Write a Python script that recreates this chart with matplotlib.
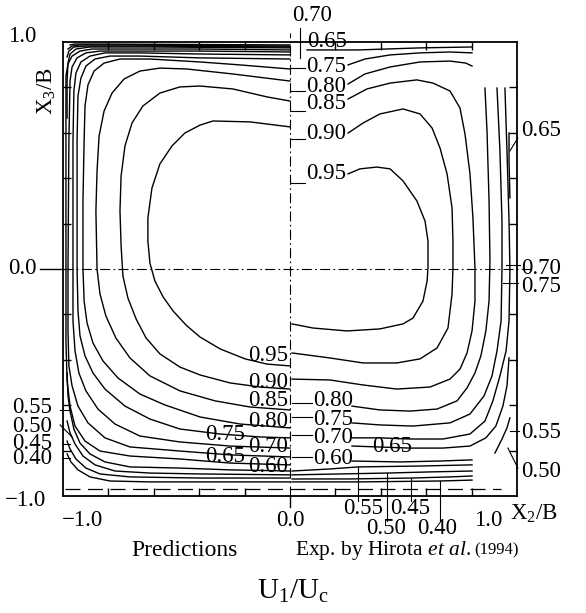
import numpy as np
import matplotlib.pyplot as plt

plt.rcParams['font.family'] = ['Liberation Serif', 'DejaVu Serif']
plt.rcParams['mathtext.fontset'] = 'custom'
plt.rcParams['mathtext.rm'] = 'Liberation Serif'
plt.rcParams['mathtext.it'] = 'Liberation Serif:italic'

# Contours, (X2/B, X3/B)
# Predictions (left half)
pred_95 = [(0, 0.626), (-0.176, 0.648), (-0.339, 0.652), (-0.396, 0.634), (-0.463, 0.599), (-0.520, 0.542),
           (-0.573, 0.463), (-0.608, 0.357), (-0.626, 0.225), (-0.626, 0.123), (-0.617, 0.026), (-0.595, -0.053),
           (-0.559, -0.123), (-0.515, -0.185), (-0.458, -0.247), (-0.396, -0.300), (-0.308, -0.352),
           (-0.198, -0.396), (-0.101, -0.419), (0, -0.427)]
pred_90 = [(0, 0.740), (-0.101, 0.758), (-0.251, 0.793), (-0.396, 0.806), (-0.485, 0.802), (-0.573, 0.775),
           (-0.648, 0.718), (-0.696, 0.643), (-0.727, 0.542), (-0.744, 0.410), (-0.749, 0.256), (-0.744, 0.101),
           (-0.736, -0.031), (-0.714, -0.128), (-0.678, -0.220), (-0.634, -0.304), (-0.573, -0.374),
           (-0.485, -0.432), (-0.396, -0.467), (-0.264, -0.502), (-0.132, -0.520), (0, -0.529)]
pred_85 = [(0, 0.828), (-0.251, 0.859), (-0.454, 0.881), (-0.573, 0.885), (-0.661, 0.872), (-0.731, 0.837),
           (-0.784, 0.775), (-0.819, 0.696), (-0.841, 0.586), (-0.850, 0.432), (-0.855, 0.256), (-0.850, 0),
           (-0.837, -0.110), (-0.811, -0.207), (-0.767, -0.304), (-0.705, -0.392), (-0.617, -0.471),
           (-0.485, -0.537), (-0.330, -0.581), (-0.176, -0.608), (0, -0.621)]
pred_80 = [(0, 0.881), (-0.220, 0.899), (-0.396, 0.912), (-0.617, 0.925), (-0.749, 0.925), (-0.819, 0.907),
           (-0.863, 0.872), (-0.890, 0.811), (-0.903, 0.718), (-0.907, 0.564), (-0.912, 0.300), (-0.912, 0),
           (-0.907, -0.141), (-0.894, -0.238), (-0.868, -0.326), (-0.824, -0.405), (-0.758, -0.480),
           (-0.661, -0.551), (-0.551, -0.599), (-0.396, -0.652), (-0.220, -0.683), (0, -0.700)]
pred_75 = [(0, 0.925), (-0.396, 0.930), (-0.661, 0.938), (-0.793, 0.938), (-0.859, 0.925), (-0.899, 0.894),
           (-0.921, 0.841), (-0.934, 0.762), (-0.938, 0.564), (-0.938, 0), (-0.934, -0.185), (-0.925, -0.295),
           (-0.903, -0.383), (-0.868, -0.458), (-0.815, -0.529), (-0.727, -0.604), (-0.617, -0.661),
           (-0.485, -0.705), (-0.308, -0.727), (-0.132, -0.740), (0, -0.744)]
pred_70 = [(0, 0.943), (-0.396, 0.947), (-0.661, 0.952), (-0.815, 0.952), (-0.881, 0.938), (-0.921, 0.912),
           (-0.943, 0.863), (-0.952, 0.784), (-0.956, 0.564), (-0.956, 0), (-0.956, -0.229), (-0.947, -0.361),
           (-0.930, -0.458), (-0.899, -0.537), (-0.846, -0.617), (-0.771, -0.683), (-0.661, -0.736),
           (-0.485, -0.762), (-0.264, -0.780), (0, -0.789)]
pred_65 = [(0, 0.956), (-0.396, 0.960), (-0.705, 0.960), (-0.837, 0.960), (-0.899, 0.952), (-0.938, 0.930),
           (-0.960, 0.890), (-0.969, 0.828), (-0.974, 0.564), (-0.978, 0), (-0.978, -0.273), (-0.974, -0.427),
           (-0.960, -0.515), (-0.934, -0.604), (-0.890, -0.678), (-0.815, -0.744), (-0.705, -0.784),
           (-0.485, -0.802), (-0.264, -0.819), (0, -0.828)]
pred_60 = [(0, 0.965), (-0.396, 0.969), (-0.749, 0.969), (-0.872, 0.969), (-0.925, 0.960), (-0.960, 0.938),
           (-0.978, 0.903), (-0.987, 0.850), (-0.987, 0.564), (-0.987, 0), (-0.987, -0.317), (-0.982, -0.493),
           (-0.969, -0.604), (-0.947, -0.692), (-0.903, -0.758), (-0.837, -0.802), (-0.705, -0.824),
           (-0.485, -0.837), (-0.264, -0.855), (0, -0.863)]
pred_55_top = [(0, 0.974), (-0.617, 0.978), (-0.881, 0.978), (-0.943, 0.969), (-0.969, 0.947), (-0.978, 0.907),
               (-0.982, 0.828), (-0.982, 0.665)]
pred_55_bot = [(-0.982, -0.458), (-0.978, -0.559), (-0.969, -0.626), (-0.952, -0.705), (-0.925, -0.767),
               (-0.881, -0.815), (-0.815, -0.850), (-0.705, -0.872), (-0.485, -0.877), (-0.264, -0.885), (0, -0.890)]
pred_50_top = [(0, 0.978), (-0.617, 0.982), (-0.903, 0.982), (-0.952, 0.978), (-0.974, 0.960), (-0.982, 0.934)]
pred_50_bot = [(-0.982, -0.670), (-0.969, -0.722), (-0.947, -0.771), (-0.912, -0.824), (-0.859, -0.863),
               (-0.771, -0.890), (-0.617, -0.899), (-0.396, -0.903), (0, -0.907)]
pred_45_top = [(0, 0.982), (-0.749, 0.987), (-0.925, 0.987), (-0.960, 0.982), (-0.978, 0.969)]
pred_45_bot = [(-0.982, -0.758), (-0.969, -0.793), (-0.943, -0.837), (-0.899, -0.877), (-0.837, -0.903),
               (-0.705, -0.916), (-0.396, -0.921), (0, -0.921)]
pred_40_top = [(0, 0.987), (-0.837, 0.991), (-0.947, 0.991), (-0.969, 0.987)]
pred_40_bot = [(-0.982, -0.815), (-0.965, -0.850), (-0.934, -0.885), (-0.881, -0.916), (-0.793, -0.934),
               (-0.617, -0.938), (-0.308, -0.938), (0, -0.938)]

# Experiment, Hirota et al. (right half)
exp_95 = [(0.256, 0.419), (0.308, 0.441), (0.383, 0.449), (0.441, 0.441), (0.498, 0.388), (0.559, 0.300),
          (0.595, 0.211), (0.608, 0.123), (0.608, 0.004), (0.604, -0.053), (0.586, -0.141), (0.542, -0.216),
          (0.498, -0.242), (0.396, -0.264), (0.251, -0.273), (0.101, -0.260), (0.009, -0.242)]
exp_90 = [(0.256, 0.599), (0.322, 0.643), (0.396, 0.683), (0.498, 0.705), (0.573, 0.683), (0.626, 0.621),
          (0.661, 0.533), (0.692, 0.419), (0.714, 0.269), (0.718, 0.123), (0.718, 0.004), (0.714, -0.110),
          (0.696, -0.260), (0.648, -0.348), (0.573, -0.396), (0.471, -0.414), (0.322, -0.414), (0.176, -0.392),
          (0.009, -0.370)]
exp_85 = [(0.256, 0.749), (0.339, 0.793), (0.441, 0.819), (0.559, 0.833), (0.630, 0.819), (0.705, 0.784),
          (0.749, 0.709), (0.771, 0.595), (0.793, 0.419), (0.806, 0.225), (0.815, 0.004), (0.815, -0.141),
          (0.802, -0.273), (0.780, -0.370), (0.749, -0.441), (0.705, -0.485), (0.617, -0.520), (0.471, -0.529),
          (0.322, -0.511), (0.176, -0.489), (0.009, -0.485)]
exp_80_top = [(0.256, 0.815), (0.330, 0.859), (0.441, 0.890), (0.573, 0.912), (0.705, 0.916), (0.775, 0.907),
              (0.802, 0.894)]
exp_80 = [(0.859, 0.797), (0.868, 0.608), (0.877, 0.300), (0.881, 0.035), (0.877, -0.141), (0.863, -0.273),
          (0.841, -0.383), (0.815, -0.458), (0.780, -0.524), (0.736, -0.581), (0.648, -0.617), (0.529, -0.626),
          (0.396, -0.621), (0.273, -0.604)]
exp_75_top = [(0.256, 0.899), (0.330, 0.925), (0.441, 0.943), (0.573, 0.952), (0.705, 0.956), (0.802, 0.952)]
exp_75 = [(0.912, 0.797), (0.925, 0.520), (0.934, 0.211), (0.934, 0), (0.930, -0.229), (0.912, -0.361),
          (0.890, -0.471), (0.855, -0.559), (0.793, -0.639), (0.705, -0.678), (0.542, -0.692), (0.396, -0.687),
          (0.273, -0.678)]
exp_70 = [(0.947, 0.797), (0.956, 0.520), (0.965, 0.211), (0.969, 0), (0.965, -0.229), (0.952, -0.361),
          (0.925, -0.471), (0.894, -0.581), (0.859, -0.670), (0.793, -0.727), (0.674, -0.749), (0.529, -0.749),
          (0.396, -0.744), (0.273, -0.744)]
exp_65_side = [(0.965, 0.599), (0.965, 0.476), (0.969, 0.313)]
exp_65 = [(0.273, -0.780), (0.529, -0.789), (0.674, -0.789), (0.793, -0.780), (0.863, -0.744), (0.907, -0.692),
          (0.938, -0.604), (0.956, -0.515), (0.965, -0.392)]
exp_65_top = [(0.075, 0.965), (0.300, 0.965), (0.573, 0.974), (0.802, 0.978)]
exp_60 = [(0.273, -0.846), (0.485, -0.850), (0.661, -0.846), (0.802, -0.841)]
exp_55 = [(0.009, -0.890), (0.176, -0.881), (0.300, -0.872), (0.573, -0.868), (0.802, -0.863)]
exp_55_side = [(0.903, -0.811), (0.934, -0.749), (0.956, -0.700), (0.969, -0.656)]
exp_50 = [(0.009, -0.907), (0.220, -0.903), (0.427, -0.899), (0.617, -0.894), (0.802, -0.890)]
exp_45 = [(0.009, -0.925), (0.264, -0.925), (0.533, -0.921), (0.705, -0.916), (0.802, -0.912)]
exp_40 = [(0.009, -0.938), (0.308, -0.938), (0.661, -0.934), (0.802, -0.930)]

# contour labels: (text, x, y)
pred_labels = [('0.95', -0.009, -0.383), ('0.90', -0.009, -0.502), ('0.85', -0.009, -0.581),
               ('0.80', -0.009, -0.670), ('0.75', -0.198, -0.727), ('0.70', -0.009, -0.780),
               ('0.65', -0.198, -0.824), ('0.60', -0.009, -0.868),
               ('0.55', -1.048, -0.612), ('0.50', -1.048, -0.692), ('0.45', -1.048, -0.767),
               ('0.40', -1.048, -0.837)]
exp_labels = [('0.70', 0.009, 1.115), ('0.65', 0.075, 1.004), ('0.75', 0.070, 0.894), ('0.80', 0.070, 0.806),
              ('0.85', 0.070, 0.727), ('0.90', 0.070, 0.595), ('0.95', 0.070, 0.419),
              ('0.80', 0.101, -0.581), ('0.75', 0.101, -0.661), ('0.70', 0.101, -0.744),
              ('0.60', 0.101, -0.837), ('0.65', 0.361, -0.780),
              ('0.65', 1.018, 0.608), ('0.70', 1.018, 0.004), ('0.75', 1.018, -0.075),
              ('0.55', 1.018, -0.722), ('0.50', 1.018, -0.890)]
bottom_labels = [('0.55', 0.322, -1.057), ('0.45', 0.529, -1.057), ('0.50', 0.423, -1.145), ('0.40', 0.648, -1.145)]

# leader lines from labels to contours
leaders = [[(0, 0.885), (0.066, 0.885)], [(0, 0.784), (0.066, 0.784)], [(0, 0.696), (0.066, 0.696)],
           [(0, 0.573), (0.066, 0.573)], [(0, 0.379), (0.066, 0.379)], [(0.044, 1.062), (0.044, 0.930)],
           [(0.009, -0.590), (0.097, -0.590)], [(0.009, -0.652), (0.097, -0.652)],
           [(0.009, -0.731), (0.097, -0.731)], [(0.009, -0.828), (0.097, -0.828)],
           [(0.969, 0.520), (1.004, 0.577)], [(0.952, 0.018), (1.013, 0.018)], [(0.938, -0.062), (1.004, -0.062)],
           [(0.969, -0.714), (1.009, -0.714)], [(0.960, -0.789), (1.004, -0.877)],
           [(0.300, -0.872), (0.300, -1.022)], [(0.427, -0.899), (0.427, -1.110)],
           [(0.533, -0.921), (0.533, -1.022)], [(0.661, -0.934), (0.661, -1.110)],
           [(-1.013, -0.621), (-0.969, -0.621)], [(-1.013, -0.687), (-0.960, -0.740)],
           [(-1.004, -0.771), (-0.969, -0.771)], [(-1.004, -0.833), (-0.969, -0.833)]]

ticks = [-0.8, -0.6, -0.4, -0.2, 0.2, 0.4, 0.6, 0.8]

fig = plt.figure(figsize=(5.86, 6.13), dpi=100)
ax = fig.add_axes([0.1075, 0.1909, 0.7747, 0.7406])
ax.set_xlim(-1, 1)
ax.set_ylim(-1, 1)

lines = [pred_95, pred_90, pred_85, pred_80, pred_75, pred_70, pred_65, pred_60,
         pred_55_top, pred_55_bot, pred_50_top, pred_50_bot, pred_45_top, pred_45_bot, pred_40_top, pred_40_bot,
         exp_95, exp_90, exp_85, exp_80_top, exp_80, exp_75_top, exp_75, exp_70, exp_65_side, exp_65,
         exp_65_top, exp_60, exp_55, exp_55_side, exp_50, exp_45, exp_40]
for seg in lines:
    a = np.array(seg)
    ax.plot(a[:, 0], a[:, 1], color='k', lw=1.0)

for seg in leaders:
    a = np.array(seg)
    ax.plot(a[:, 0], a[:, 1], color='k', lw=0.8, clip_on=False)

# center lines and wall line
ax.plot([-1.1, -1.0], [0, 0], color='k', lw=1.0, clip_on=False)
ax.plot([-1.0, 1.06], [0, 0], color='k', lw=0.8, dashes=[9, 3, 1.5, 3], clip_on=False)
ax.plot([0, 0], [-1.0, 1.04], color='k', lw=0.8, dashes=[9, 3, 1.5, 3], clip_on=False)
ax.plot([0, 0], [-1.05, -1.0], color='k', lw=1.0, clip_on=False)
ax.plot([-0.99, 0.93], [-0.969, -0.969], color='k', lw=0.9, dashes=[12, 6])

fs = 16.5
for s, x, y in pred_labels:
    ax.text(x, y, s, ha='right', va='center', fontsize=fs, clip_on=False)
for s, x, y in exp_labels:
    ax.text(x, y, s, ha='left', va='center', fontsize=fs, clip_on=False)
for s, x, y in bottom_labels:
    ax.text(x, y, s, ha='center', va='center', fontsize=fs, clip_on=False)

ax.set_xticks(ticks)
ax.set_yticks(ticks)
ax.tick_params(direction='in', length=6, width=1, top=True, right=True,
               labelbottom=False, labelleft=False)
for sp in ax.spines.values():
    sp.set_linewidth(1.3)

# axis labels
ax.text(-1.181, 1.026, '1.0', ha='center', va='center', fontsize=fs, clip_on=False)
ax.text(-1.181, 0, '0.0', ha='center', va='center', fontsize=fs, clip_on=False)
ax.text(-1.167, -1.022, '\u22121.0', ha='center', va='center', fontsize=fs, clip_on=False)
ax.text(-1.07, 0.784, 'X$_3$/B', ha='center', va='center', rotation=90, fontsize=fs, clip_on=False)
ax.text(-0.916, -1.106, '\u22121.0', ha='center', va='center', fontsize=fs, clip_on=False)
ax.text(0, -1.106, '0.0', ha='center', va='center', fontsize=fs, clip_on=False)
ax.text(0.872, -1.106, '1.0', ha='center', va='center', fontsize=fs, clip_on=False)
ax.text(0.969, -1.079, 'X$_2$/B', ha='left', va='center', fontsize=fs, clip_on=False)

ax.text(-0.463, -1.238, 'Predictions', ha='center', va='center', fontsize=17, clip_on=False)
t1 = ax.text(0.022, -1.238, 'Exp. by Hirota $\\it{et}$ $\\it{al.}$', ha='left', va='center',
             fontsize=15.5, clip_on=False)
ax.annotate('(1994)', xy=(1, 0.5), xycoords=t1, xytext=(2, 0), textcoords='offset points',
            ha='left', va='center', fontsize=12)
ax.text(0.013, -1.419, 'U$_1$/U$_{\\mathrm{c}}$', ha='center', va='center', fontsize=21, clip_on=False)

fig.savefig('out.png', dpi=100)
